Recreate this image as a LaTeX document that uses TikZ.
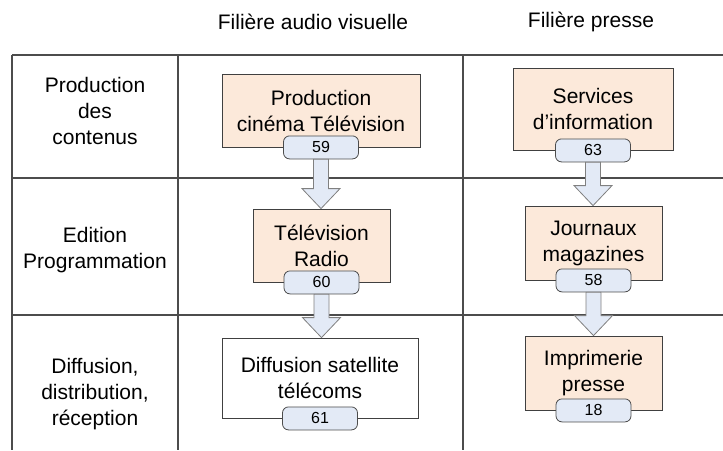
\documentclass[tikz,border=0pt]{standalone}
\usepackage{fontspec}
\setmainfont{Liberation Sans}
\usetikzlibrary{calc}
\definecolor{peche}{HTML}{FCE9DA}
\definecolor{bleupale}{HTML}{E3EAF6}
% fleche bloc entre une pastille et la boite suivante
\newcommand{\flechebas}[2]{%
  \path[fleche] let \p1=(#1.south), \p2=(#2.north) in
    (\x1-3.75pt,\y1) -- (\x1+3.75pt,\y1) -- (\x1+3.75pt,\y2+10pt)
    -- (\x1+9.5pt,\y2+10pt) -- (\x1,\y2) -- (\x1-9.5pt,\y2+10pt)
    -- (\x1-3.75pt,\y2+10pt) -- cycle;}

\begin{document}
\begin{tikzpicture}[x=0.5pt,y=-0.5pt,
  every node/.style={font=\fontsize{10.5}{13}\selectfont, align=center},
  boite/.style={draw=black!75, fill=peche, inner sep=0pt},
  pastille/.style={draw=black!70, fill=bleupale, rounded corners=3pt,
    minimum width=37.5pt, minimum height=11.5pt, inner sep=0pt,
    font=\fontsize{8}{9}\selectfont},
  fleche/.style={draw=black!50, fill=bleupale},
  trait/.style={draw=black!70, line width=0.6pt}]
 \useasboundingbox (0,0) rectangle (723,450);
 % le tableau
 \path[trait] (12,55) -- (723,55) (12,178) -- (723,178) (12,315) -- (723,315);
 \path[trait] (12,55) -- (12,450) (178,55) -- (178,450) (463,55) -- (463,450);
 % en-tetes
 \node (hav) at (313,22) {Filière audio visuelle};
 \node (hpr) at (591,22) {Filière presse};
 \node (lprod) at (95,111) {Production\\des\\contenus};
 \node (ledit) at (95,250) {Edition\\Programmation};
 \node (ldiff) at (95,394) {Diffusion,\\distribution,\\réception};
 % filiere audio visuelle
 \node[boite, minimum width=99pt, minimum height=36.5pt] (prod) at (321,110.5)
   {Production\\cinéma Télévision};
 \node[boite, minimum width=68.5pt, minimum height=36.5pt] (tele) at (321.5,245.5)
   {Télévision\\Radio};
 \node[boite, fill=white, minimum width=98pt, minimum height=40pt] (diff) at (320,378)
   {Diffusion satellite\\télécoms};
 % filiere presse
 \node[boite, minimum width=80pt, minimum height=41pt] (serv) at (593,109)
   {Services\\d’information};
 \node[boite, minimum width=68.5pt, minimum height=37pt] (journ) at (593.5,243)
   {Journaux\\magazines};
 \node[boite, minimum width=68.5pt, minimum height=37pt] (impr) at (593.5,373)
   {Imprimerie\\presse};
 \node[pastille] (p59) at (prod.south) {59};
 \node[pastille] (p60) at (tele.south) {60};
 \node[pastille] (p61) at (diff.south) {61};
 \node[pastille] (p63) at (serv.south) {63};
 \node[pastille] (p58) at (journ.south) {58};
 \node[pastille] (p18) at (impr.south) {18};
 \flechebas{p59}{tele}
 \flechebas{p60}{diff}
 \flechebas{p63}{journ}
 \flechebas{p58}{impr}
\end{tikzpicture}
\end{document}
